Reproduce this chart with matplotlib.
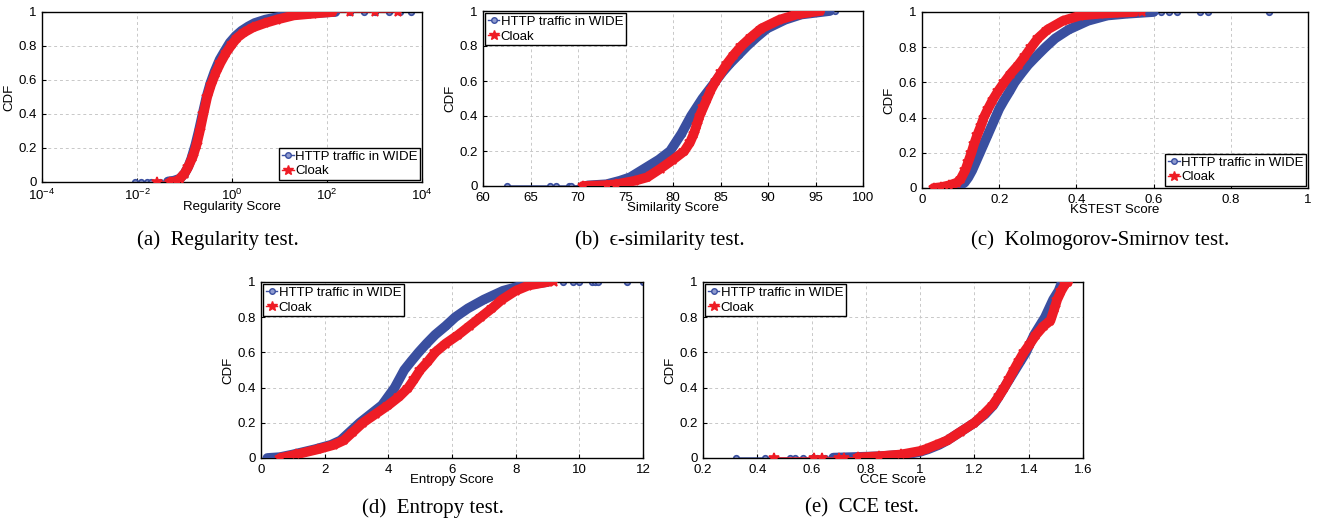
import numpy as np
import matplotlib
matplotlib.use("Agg")
import matplotlib.pyplot as plt

# ค่าที่อ่านจากภาพ: (score, CDF) ของแต่ละเส้น
# (a) Regularity test
reg_wide_x = [0.009, 0.012, 0.016, 0.02, 0.03, 0.045, 0.06, 0.08, 0.1, 0.12, 0.14, 0.17, 0.2, 0.24, 0.29, 0.35, 0.43, 0.55, 0.7, 0.9, 1.2, 1.6, 2.2, 3.0, 5.0, 9.0, 15, 30, 60, 150, 300, 600, 1000, 2000, 3500, 6000]
reg_wide_y = [0.0, 0.0, 0.0, 0.0, 0.0, 0.003, 0.008, 0.02, 0.05, 0.09, 0.14, 0.22, 0.3, 0.4, 0.5, 0.58, 0.65, 0.72, 0.77, 0.82, 0.86, 0.89, 0.915, 0.935, 0.955, 0.97, 0.98, 0.99, 0.995, 1.0, 1.0, 1.0, 1.0, 1.0, 1.0, 1.0]
reg_cloak_x = [0.026, 0.05, 0.07, 0.08, 0.1, 0.12, 0.15, 0.18, 0.21, 0.25, 0.3, 0.36, 0.45, 0.57, 0.75, 1.0, 1.3, 1.8, 2.8, 5.0, 8.7, 20, 50, 130, 300, 1000, 3200]
reg_cloak_y = [0.0, 0.0, 0.005, 0.02, 0.05, 0.09, 0.15, 0.22, 0.3, 0.4, 0.5, 0.57, 0.64, 0.7, 0.76, 0.81, 0.85, 0.88, 0.91, 0.935, 0.955, 0.98, 0.99, 1.0, 1.0, 1.0, 1.0]

# (b) epsilon-similarity test
sim_wide_x = [62.5, 67.0, 67.7, 69.0, 69.3, 71.0, 73.0, 74.4, 75.5, 77.0, 78.5, 79.7, 80.3, 80.9, 81.4, 81.9, 82.5, 83.1, 83.8, 84.5, 85.2, 86.0, 86.9, 87.8, 88.8, 89.9, 91.8, 93.5, 95.0, 96.5, 97.0]
sim_wide_y = [0.0, 0.0, 0.0, 0.0, 0.0, 0.003, 0.01, 0.03, 0.05, 0.1, 0.15, 0.2, 0.25, 0.3, 0.35, 0.4, 0.45, 0.5, 0.55, 0.6, 0.65, 0.7, 0.75, 0.8, 0.85, 0.9, 0.95, 0.98, 0.99, 1.0, 1.0]
sim_cloak_x = [70.5, 73.0, 74.0, 76.0, 77.3, 78.7, 80.0, 81.2, 81.8, 82.2, 82.5, 82.8, 83.2, 83.6, 84.0, 84.5, 85.1, 85.7, 86.4, 87.2, 88.2, 89.3, 91.2, 93.0, 94.2, 95.5]
sim_cloak_y = [0.0, 0.005, 0.01, 0.03, 0.05, 0.1, 0.15, 0.2, 0.25, 0.3, 0.35, 0.4, 0.45, 0.5, 0.55, 0.6, 0.65, 0.7, 0.75, 0.8, 0.85, 0.9, 0.95, 0.98, 0.99, 1.0]

# (c) Kolmogorov-Smirnov test
ks_wide_x = [0.04, 0.06, 0.08, 0.095, 0.11, 0.12, 0.13, 0.14, 0.15, 0.16, 0.17, 0.18, 0.19, 0.2, 0.213, 0.227, 0.24, 0.257, 0.275, 0.297, 0.32, 0.345, 0.38, 0.43, 0.48, 0.53, 0.6, 0.62, 0.64, 0.66, 0.72, 0.74, 0.9]
ks_wide_y = [0.0, 0.0, 0.0, 0.01, 0.03, 0.06, 0.1, 0.15, 0.2, 0.25, 0.3, 0.35, 0.4, 0.45, 0.5, 0.55, 0.6, 0.65, 0.7, 0.75, 0.8, 0.85, 0.9, 0.95, 0.98, 0.99, 1.0, 1.0, 1.0, 1.0, 1.0, 1.0, 1.0]
ks_cloak_x = [0.03, 0.05, 0.07, 0.09, 0.1, 0.112, 0.12, 0.128, 0.135, 0.143, 0.152, 0.16, 0.171, 0.183, 0.197, 0.213, 0.23, 0.25, 0.267, 0.283, 0.3, 0.325, 0.365, 0.41, 0.46, 0.5, 0.55, 0.57]
ks_cloak_y = [0.0, 0.005, 0.015, 0.03, 0.05, 0.1, 0.15, 0.2, 0.25, 0.3, 0.35, 0.4, 0.45, 0.5, 0.55, 0.6, 0.65, 0.7, 0.75, 0.8, 0.85, 0.9, 0.95, 0.98, 0.99, 0.995, 1.0, 1.0]

# (d) Entropy test
ent_wide_x = [0.2, 0.6, 1.0, 1.7, 2.2, 2.5, 2.8, 3.1, 3.45, 3.8, 4.0, 4.2, 4.35, 4.5, 4.72, 4.95, 5.2, 5.47, 5.8, 6.1, 6.5, 7.0, 7.6, 8.2, 9.0, 9.5, 9.8, 10.0, 10.4, 10.5, 10.6, 11.5, 12.0]
ent_wide_y = [0.0, 0.005, 0.02, 0.05, 0.075, 0.1, 0.15, 0.2, 0.25, 0.3, 0.35, 0.4, 0.45, 0.5, 0.55, 0.6, 0.65, 0.7, 0.75, 0.8, 0.85, 0.9, 0.95, 0.98, 1.0, 1.0, 1.0, 1.0, 1.0, 1.0, 1.0, 1.0, 1.0]
ent_cloak_x = [0.6, 1.1, 1.8, 2.3, 2.6, 2.9, 3.2, 3.6, 4.0, 4.35, 4.63, 4.82, 5.0, 5.25, 5.47, 5.8, 6.2, 6.55, 6.9, 7.25, 7.57, 8.0, 8.4, 9.0, 9.2]
ent_cloak_y = [0.0, 0.02, 0.05, 0.075, 0.1, 0.15, 0.2, 0.25, 0.3, 0.35, 0.4, 0.45, 0.5, 0.55, 0.6, 0.65, 0.7, 0.75, 0.8, 0.85, 0.9, 0.95, 0.98, 1.0, 1.0]

# (e) CCE test
cce_wide_x = [0.32, 0.43, 0.52, 0.54, 0.57, 0.6, 0.62, 0.65, 0.68, 0.75, 0.85, 0.95, 1.0, 1.03, 1.07, 1.1, 1.15, 1.2, 1.24, 1.27, 1.29, 1.31, 1.33, 1.35, 1.37, 1.39, 1.405, 1.42, 1.44, 1.46, 1.475, 1.49, 1.51, 1.52, 1.53]
cce_wide_y = [0.0, 0.0, 0.0, 0.0, 0.0, 0.0, 0.0, 0.0, 0.002, 0.005, 0.01, 0.02, 0.035, 0.05, 0.075, 0.1, 0.15, 0.2, 0.25, 0.3, 0.35, 0.4, 0.45, 0.5, 0.55, 0.6, 0.65, 0.7, 0.75, 0.8, 0.85, 0.9, 0.95, 0.99, 1.0]
cce_cloak_x = [0.46, 0.61, 0.64, 0.7, 0.72, 0.77, 0.85, 0.93, 1.0, 1.02, 1.06, 1.1, 1.15, 1.2, 1.235, 1.267, 1.29, 1.31, 1.328, 1.345, 1.363, 1.382, 1.405, 1.427, 1.455, 1.48, 1.495, 1.505, 1.52, 1.535, 1.545]
cce_cloak_y = [0.0, 0.0, 0.0, 0.0, 0.0, 0.003, 0.01, 0.02, 0.04, 0.05, 0.075, 0.1, 0.15, 0.2, 0.25, 0.3, 0.35, 0.4, 0.45, 0.5, 0.55, 0.6, 0.65, 0.7, 0.75, 0.78, 0.85, 0.9, 0.95, 0.99, 1.0]

BLUE = "#3a4fa0"
RED = "#ee1c25"
SANS = ["Liberation Sans", "DejaVu Sans"]
SERIF = ["Liberation Serif", "DejaVu Serif"]

plt.rcParams["font.family"] = SANS

fig = plt.figure(figsize=(13.28, 5.25), dpi=100)
W, H = 1328.0, 525.0


def make_axes(left, right, top, bottom):
    return fig.add_axes([left / W, 1 - bottom / H, (right - left) / W, (bottom - top) / H])


def draw_cdf(ax, x, y, color, marker, ms, mfc, z):
    x = np.asarray(x)
    y = np.asarray(y)
    ax.plot(x, y, color=color, lw=1, marker=marker, ms=ms,
            mfc=mfc, mec=color, mew=1.2, zorder=z)
    # แถบหนาในช่วงที่จุดหนาแน่น
    idx = np.where((y > 0.004) & (y < 0.996))[0]
    if len(idx):
        lo, hi = max(idx[0] - 1, 0), min(idx[-1] + 2, len(x))
        ax.plot(x[lo:hi], y[lo:hi], color=color, lw=7, solid_capstyle="round",
                solid_joinstyle="round", zorder=z + 1)


def panel(ax, wx, wy, cx, cy, xlim, xticks, xlabel, legend_loc, logx=False):
    if logx:
        ax.set_xscale("log")
    draw_cdf(ax, wx, wy, BLUE, "o", 4, "#8f9bd0", 2)
    draw_cdf(ax, cx, cy, RED, "*", 7, RED, 4)
    ax.set_xlim(*xlim)
    ax.set_ylim(0, 1)
    ax.set_xticks(xticks)
    if not logx:
        ax.set_xticklabels([("%g" % t) for t in xticks])
    ax.minorticks_off()
    ax.set_yticks([0, 0.2, 0.4, 0.6, 0.8, 1])
    ax.set_yticklabels(["0", "0.2", "0.4", "0.6", "0.8", "1"])
    ax.tick_params(direction="in", length=3, labelsize=9.5)
    ax.tick_params(axis="x", pad=4)
    ax.tick_params(axis="y", pad=4)
    ax.grid(True, linestyle=(0, (3, 3)), color="#c8c8c8", lw=0.7)
    ax.set_axisbelow(True)
    for s in ax.spines.values():
        s.set_linewidth(1.0)
    ax.set_xlabel(xlabel, fontsize=9.5, labelpad=-1)
    ax.set_ylabel("CDF", fontsize=9.5, labelpad=2)
    h1, = ax.plot([], [], color=BLUE, lw=1, marker="o", ms=4, mfc="#8f9bd0", mec=BLUE)
    h2, = ax.plot([], [], color=RED, lw=1, marker="*", ms=7)
    leg = ax.legend([h1, h2], ["HTTP traffic in WIDE", "Cloak"], loc=legend_loc,
                    fancybox=False, framealpha=1, edgecolor="black", fontsize=9.5,
                    handlelength=0.9, handletextpad=0.1, borderpad=0.2,
                    labelspacing=0.2, borderaxespad=0.15)
    leg.set_zorder(10)
    leg.get_frame().set_linewidth(1.0)


ax_a = make_axes(42, 422, 12, 182)
panel(ax_a, reg_wide_x, reg_wide_y, reg_cloak_x, reg_cloak_y, (1e-4, 1e4),
      [1e-4, 1e-2, 1e0, 1e2, 1e4], "Regularity Score", "lower right", logx=True)

ax_b = make_axes(483, 863, 11, 186)
panel(ax_b, sim_wide_x, sim_wide_y, sim_cloak_x, sim_cloak_y, (60, 100),
      [60, 65, 70, 75, 80, 85, 90, 95, 100], "Similarity Score", "upper left")

ax_c = make_axes(922, 1308, 12, 188)
panel(ax_c, ks_wide_x, ks_wide_y, ks_cloak_x, ks_cloak_y, (0, 1),
      [0, 0.2, 0.4, 0.6, 0.8, 1], "KSTEST Score", "lower right")

ax_d = make_axes(261, 643, 282, 458)
panel(ax_d, ent_wide_x, ent_wide_y, ent_cloak_x, ent_cloak_y, (0, 12),
      [0, 2, 4, 6, 8, 10, 12], "Entropy Score", "upper left")

ax_e = make_axes(703, 1083, 282, 458)
panel(ax_e, cce_wide_x, cce_wide_y, cce_cloak_x, cce_cloak_y, (0.2, 1.6),
      [0.2, 0.4, 0.6, 0.8, 1, 1.2, 1.4, 1.6], "CCE Score", "upper left")

captions = [
    (218, 240, "(a)  Regularity test."),
    (660, 240, "(b)  \u03f5-similarity test."),
    (1100, 240, "(c)  Kolmogorov-Smirnov test."),
    (433, 508, "(d)  Entropy test."),
    (862, 508, "(e)  CCE test."),
]
for cx, cy, txt in captions:
    fig.text(cx / W, 1 - cy / H, txt, ha="center", va="center", fontsize=15,
             family=SERIF)

fig.savefig("out.png", dpi=100)
